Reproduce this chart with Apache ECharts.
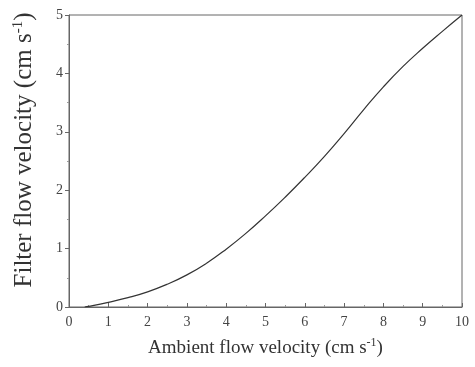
<!DOCTYPE html>
<html>
<head>
<meta charset="utf-8">
<script src="https://cdn.jsdelivr.net/npm/echarts@6/dist/echarts.min.js"></script>
<style>
html, body { margin: 0; padding: 0; background: #fff; }
#chart { width: 475px; height: 367px; }
</style>
</head>
<body>
<div id="chart"></div>
<script>
// Ambient vs. filter flow velocity (cm s^-1)
const ambientVelocity = [0.4, 0.5, 1, 1.5, 2, 2.5, 3, 3.5, 4, 4.5, 5, 5.5, 6, 6.5, 7, 7.5, 8, 8.5, 9, 9.5, 10];
const filterVelocity  = [0, 0.01, 0.08, 0.16, 0.26, 0.39, 0.55, 0.75, 0.99, 1.26, 1.56, 1.88, 2.22, 2.58, 2.97, 3.38, 3.77, 4.12, 4.43, 4.72, 5.0];
const xTicks = [0, 1, 2, 3, 4, 5, 6, 7, 8, 9, 10];
const yTicks = [0, 1, 2, 3, 4, 5];

const ink = '#444';
const font = 'Liberation Serif, Times New Roman, serif';

function supStyle(size, lift) {
  return { sup: { fontFamily: font, fontSize: size, color: '#333', verticalAlign: 'top', padding: [0, 0, lift, 0] } };
}

const chart = echarts.init(document.getElementById('chart'));
chart.setOption({
  animation: false,
  backgroundColor: '#fff',
  grid: { left: 69, right: 13, top: 15, bottom: 60, show: true, borderColor: '#666', borderWidth: 1 },
  xAxis: {
    type: 'value',
    min: xTicks[0], max: xTicks[xTicks.length - 1], interval: 1,
    name: 'Ambient flow velocity (cm s{sup|-1})',
    nameLocation: 'middle', nameGap: 30,
    nameTextStyle: { fontFamily: font, fontSize: 19, color: '#333', rich: supStyle(12, 10) },
    axisLine: { lineStyle: { color: '#666', width: 1 } },
    axisTick: { inside: true, length: 4, lineStyle: { color: '#666' } },
    minorTick: { show: true, splitNumber: 2, length: 2, lineStyle: { color: '#999' } },
    axisLabel: { fontFamily: font, fontSize: 14, color: ink, margin: 8 },
    splitLine: { show: false }
  },
  yAxis: {
    type: 'value',
    min: yTicks[0], max: yTicks[yTicks.length - 1], interval: 1,
    name: 'Filter flow velocity (cm s{sup|-1})',
    nameLocation: 'middle', nameGap: 31, nameRotate: 90,
    nameTextStyle: { fontFamily: font, fontSize: 25, color: '#333', padding: [0, 0, 0, 22], rich: supStyle(15, 12) },
    axisLine: { lineStyle: { color: '#666', width: 1 } },
    axisTick: { inside: false, length: 4, lineStyle: { color: '#666' } },
    minorTick: { show: true, splitNumber: 2, length: 2, lineStyle: { color: '#999' } },
    axisLabel: { fontFamily: font, fontSize: 14, color: ink, margin: 6 },
    splitLine: { show: false }
  },
  series: [{
    type: 'line',
    data: ambientVelocity.map((x, i) => [x, filterVelocity[i]]),
    smooth: 0.5,
    symbol: 'none',
    lineStyle: { color: '#333', width: 1.2 }
  }]
});
</script>
</body>
</html>
